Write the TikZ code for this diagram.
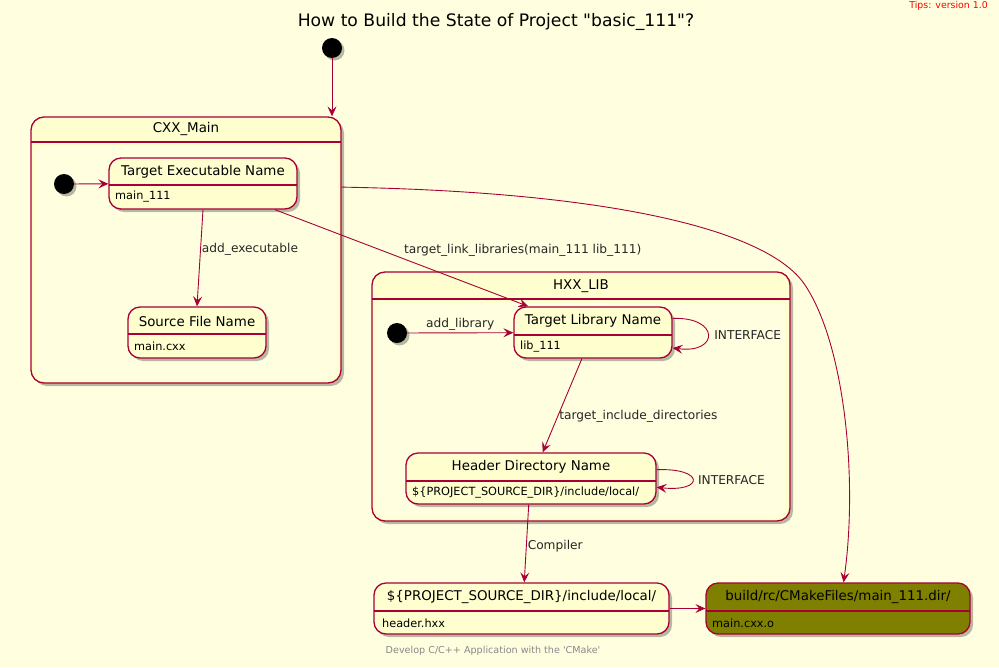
\documentclass[tikz,border=0pt]{standalone}
\usepackage{fontspec}
\setmainfont{DejaVu Sans}
\usetikzlibrary{positioning,shapes,shadows,arrows.meta}
\definecolor{pagebg}{HTML}{FFFFE0}
\definecolor{umlfill}{HTML}{FEFECE}
\definecolor{umlline}{HTML}{A80036}
\definecolor{objfill}{HTML}{808000}
\definecolor{footgray}{HTML}{888888}
\tikzset{
  stbox/.style={draw=umlline, fill=umlfill, line width=1.3pt, rounded corners=12pt, inner sep=0pt,
    drop shadow={shadow xshift=3pt, shadow yshift=-3pt, opacity=0.28, fill=black}},
  compbox/.style={stbox, rounded corners=13pt},
  startdot/.style={circle, fill=black, minimum size=20pt, inner sep=0pt,
    drop shadow={shadow xshift=2.5pt, shadow yshift=-2.5pt, opacity=0.28, fill=black}},
  sttitle/.style={font=\fontsize{13.4}{16}\selectfont, inner sep=0pt},
  stbody/.style={font=\fontsize{11.3}{13}\selectfont, inner sep=0pt, anchor=west},
  lbl/.style={font=\fontsize{12.2}{14}\selectfont, inner sep=1pt, text=black!85},
  divline/.style={draw=umlline, line width=1.2pt},
  arr/.style={draw=umlline, line width=0.9pt, -{Stealth[length=10pt, width=9pt, inset=4pt]}}
}
\begin{document}
\begin{tikzpicture}[x=1pt, y=-1pt]
\fill[pagebg] (0,0) rectangle (999,667);
\useasboundingbox (0,0) rectangle (999,667);
\node[font=\fontsize{17.2}{20}\selectfont, inner sep=0pt] (title) at (496,22) {How to Build the State of Project \textquotedbl basic\_111\textquotedbl ?};
\node[font=\fontsize{9.4}{11}\selectfont, text=red, inner sep=0pt, anchor=east] (tips) at (988,6) {Tips: version 1.0};
\node[startdot] (start) at (332,48) {};
\node[compbox, minimum width=310pt, minimum height=266pt] (cxx) at (186,250) {};
\fill[pagebg, rounded corners=10pt] (35,146) rectangle (337,379);
\draw[divline] (31,142) -- (341,142);
\node[sttitle] (cxxtitle) at (186,129) {CXX\_Main};
\node[startdot] (cxxin) at (64,184) {};
\node[stbox, minimum width=188pt, minimum height=51pt] (tgtexe) at (203,183.5) {};
\draw[divline] (109,185) -- (297,185);
\node[sttitle] at (203,172) {Target Executable Name};
\node[stbody] at (115,197) {main\_111};
\node[stbox, minimum width=138pt, minimum height=51pt] (srcfile) at (197,332.5) {};
\draw[divline] (128,334) -- (266,334);
\node[sttitle] at (197,321) {Source File Name};
\node[stbody] at (134,346.5) {main.cxx};
\node[compbox, minimum width=418pt, minimum height=249pt] (hxx) at (581,396.5) {};
\fill[pagebg, rounded corners=10pt] (376,303) rectangle (786,517);
\draw[divline] (372,299) -- (790,299);
\node[sttitle] (hxxtitle) at (581,286) {HXX\_LIB};
\node[startdot] (hxxin) at (397,333) {};
\node[stbox, minimum width=158pt, minimum height=51pt] (tgtlib) at (593,332.5) {};
\draw[divline] (514,335) -- (672,335);
\node[sttitle] at (593,321) {Target Library Name};
\node[stbody] at (520,347) {lib\_111};
\node[stbox, minimum width=250pt, minimum height=51pt] (hdrdir) at (531,478.5) {};
\draw[divline] (406,481) -- (656,481);
\node[sttitle] at (531,467) {Header Directory Name};
\node[stbody] at (412,493) {\$\{PROJECT\_SOURCE\_DIR\}/include/local/};
\node[stbox, minimum width=295pt, minimum height=51pt] (hdrout) at (521.5,608.5) {};
\draw[divline] (374,611) -- (669,611);
\node[sttitle] at (521.5,597) {\$\{PROJECT\_SOURCE\_DIR\}/include/local/};
\node[stbody] at (382,623) {header.hxx};
\node[stbox, fill=objfill, minimum width=264pt, minimum height=51pt] (objdir) at (838,608.5) {};
\draw[divline] (706,611) -- (970,611);
\node[sttitle] at (838,597) {build/rc/CMakeFiles/main\_111.dir/};
\node[stbody] at (712,623) {main.cxx.o};
\node[font=\fontsize{9.6}{11}\selectfont, text=footgray, inner sep=0pt] (footer) at (493,651) {Develop C/C++ Application with the \textquotesingle CMake\textquotesingle};
\draw[arr] (start) -- (start |- cxx.north);
\draw[arr] (cxxin) -- (tgtexe);
\draw[arr] (tgtexe.south) -- node[lbl, pos=0.41, right] {add\_executable} (srcfile.north);
\draw[arr] (tgtexe.-20) -- node[lbl, pos=0.5, anchor=south west, xshift=1pt] {target\_link\_libraries(main\_111 lib\_111)} (tgtlib.158.6);
\draw[arr] (cxx.22.8) .. controls (620,192) and (770,232) .. (805,285) .. controls (845,345) and (858,480) .. (objdir.78.9);
\draw[arr] (hxxin) -- node[lbl, midway, above=1pt] {add\_library} (tgtlib);
\draw[arr] (tgtlib.10) .. controls +(47,-2) and +(47,6) .. node[lbl, pos=0.5, right=5pt] {INTERFACE} (tgtlib.-11);
\draw[arr] (tgtlib.-113.3) -- node[lbl, pos=0.61, right] {target\_include\_directories} (hdrdir.66.7);
\draw[arr] (hdrdir.4.3) .. controls +(48,-2) and +(48,5) .. node[lbl, pos=0.5, right=4pt] {INTERFACE} (hdrdir.-4.6);
\draw[arr] (hdrdir.-95) -- node[lbl, pos=0.54, right] {Compiler} (hdrout.84);
\draw[arr] (hdrout) -- (objdir);
\end{tikzpicture}
\end{document}
